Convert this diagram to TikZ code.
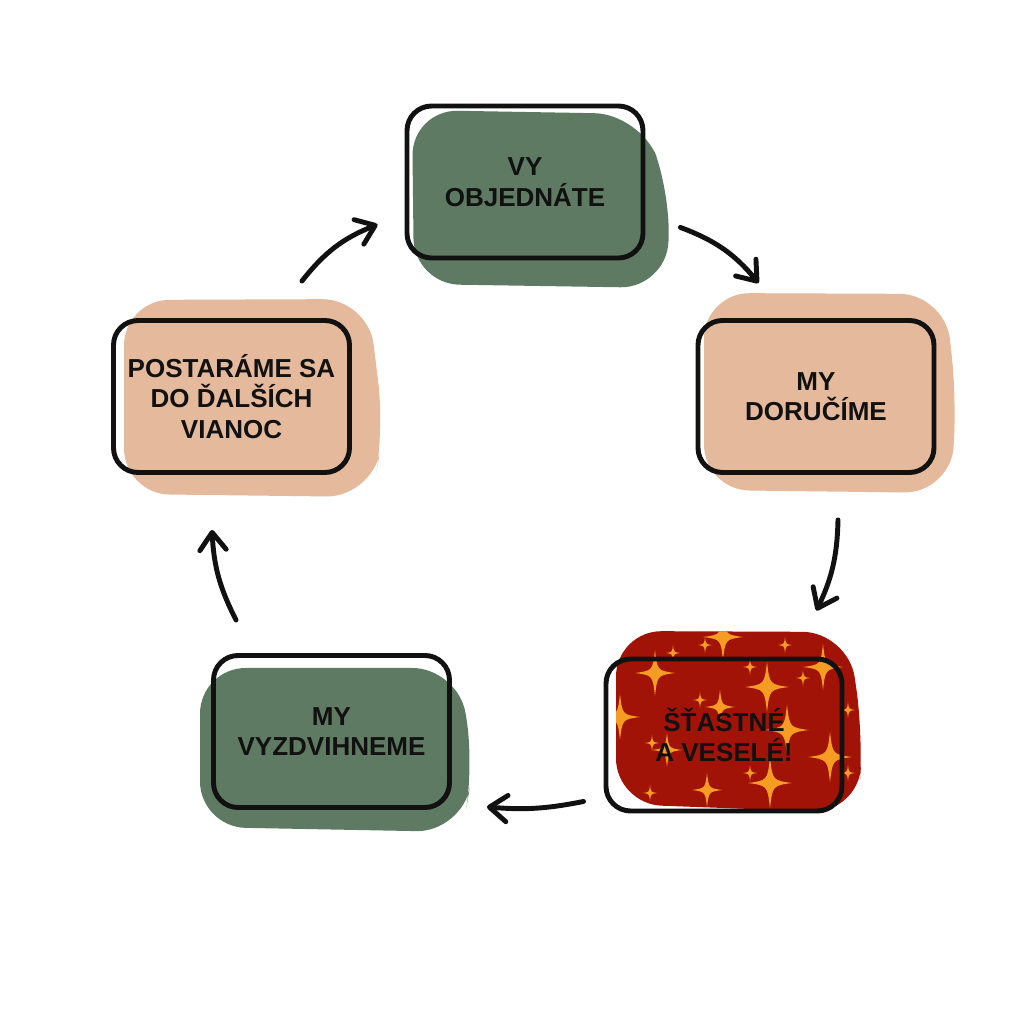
\documentclass[tikz,border=0pt]{standalone}
\usepackage{fontspec}
\setmainfont{Liberation Sans}
\usetikzlibrary{arrows.meta}

\definecolor{pine}{HTML}{5F7A62}
\definecolor{peach}{HTML}{E4B99C}
\definecolor{berry}{HTML}{A11307}
\definecolor{spark}{HTML}{F59C22}
\definecolor{ink}{HTML}{111111}

\begin{document}
\begin{tikzpicture}

        \fill[white] (0,0) rectangle (10.24,10.24);
        \useasboundingbox (0,0) rectangle (10.24,10.24);

        % blobs behind the boxes
        \begin{scope}[rounded corners=13pt]
          \fill[pine]  (4.12,9.14) -- (6.40,9.10) -- (6.71,8.30) -- (6.66,7.36) -- (4.14,7.40) -- cycle;
          \fill[peach] (7.04,7.31) -- (9.45,7.30) -- (9.57,6.20) -- (9.50,5.31) -- (7.04,5.34) -- cycle;
          \fill[pine]  (2.00,3.56) -- (4.58,3.56) -- (4.74,2.60) -- (4.62,1.92) -- (2.00,1.97) -- cycle;
          \fill[peach] (1.24,7.24) -- (3.68,7.25) -- (3.84,5.95) -- (3.72,5.27) -- (1.24,5.30) -- cycle;
        \end{scope}

        \begin{scope}
          \clip[rounded corners=13pt] (6.16,3.93) -- (8.48,3.92) -- (8.63,2.90) -- (8.58,2.11) -- (6.16,2.20) -- cycle;
          \fill[berry] (6,2) rectangle (8.8,4);
          \foreach \x/\y/\r in {6.55/3.51/.20, 7.67/3.37/.22, 8.23/3.57/.20, 7.23/3.87/.20,
                                6.20/3.07/.20, 7.20/3.17/.15, 7.87/2.94/.22, 6.67/2.74/.15,
                                8.30/2.67/.22, 7.70/2.41/.22, 7.07/2.34/.15,
                                7.05/3.79/.07, 7.85/3.79/.07, 8.03/3.46/.07, 7.50/3.57/.07,
                                7.00/3.24/.07, 6.52/2.81/.07, 8.48/3.14/.07, 8.48/2.51/.07,
                                7.50/2.51/.07, 6.50/2.31/.07, 6.73/3.71/.07}
            \fill[spark] (\x,\y+1.15*\r) .. controls (\x+.12*\r,\y+.12*\r) .. (\x+\r,\y)
                         .. controls (\x+.12*\r,\y-.12*\r) .. (\x,\y-1.15*\r)
                         .. controls (\x-.12*\r,\y-.12*\r) .. (\x-\r,\y)
                         .. controls (\x-.12*\r,\y+.12*\r) .. cycle;
        \end{scope}

        \begin{scope}[every node/.style={draw=ink,line width=1.4pt,rounded corners=7pt,
                      minimum width=2.36cm,minimum height=1.52cm,align=center,text=ink,
                      font=\bfseries\fontsize{7.4}{8.7}\selectfont}]
          \node (order)   at (5.25,8.42)  {VY\\OBJEDNÁTE};
          \node (deliver) at (8.16,6.275) {MY\\DORUČÍME};
          \node (merry)   at (7.24,2.89)  {ŠŤASTNÉ\\A VESELÉ!};
          \node (pickup)  at (3.315,2.925) {MY\\VYZDVIHNEME};
          \node (care)    at (2.315,6.275) {POSTARÁME SA\\DO ĎALŠÍCH\\VIANOC};
        \end{scope}

        \begin{scope}[every edge/.style={draw=ink,line width=1.4pt,line cap=round,
                      -{Straight Barb[length=5pt,width=7.5pt,round]}}]
          \path ([shift={(-0.50,0.37)}]care.north east)  edge[bend left=15] ([shift={(-0.27,0.36)}]order.south west);
          \path ([shift={(0.35,0.33)}]order.south east)  edge[bend left=15] ([shift={(0.63,0.35)}]deliver.north west);
          \path ([shift={(0.22,-0.45)}]deliver.south)     edge[bend left=12] ([shift={(-0.28,0.46)}]merry.north east);
          \path ([shift={(-0.20,0.12)}]merry.south west)  edge[bend left=8]  ([shift={(0.35,0.03)}]pickup.south east);
          \path ([shift={(0.25,0.33)}]pickup.north west)  edge[bend left=12] ([shift={(-0.195,-0.55)}]care.south);
        \end{scope}

      \end{tikzpicture}
\end{document}
